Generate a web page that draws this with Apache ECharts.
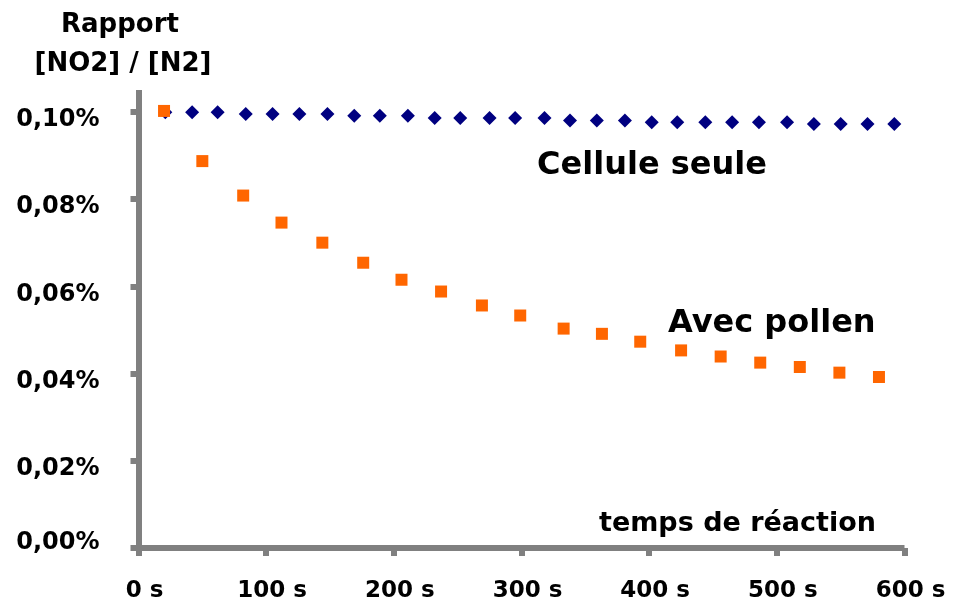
<!DOCTYPE html>
<html>
<head>
<meta charset="utf-8">
<script src="https://cdn.jsdelivr.net/npm/echarts@6/dist/echarts.min.js"></script>
<style>
html,body{margin:0;padding:0;background:#fff;}
#c{width:963px;height:603px;}
</style>
</head>
<body>
<div id="c"></div>
<script>
// Data (values in percent)
const seuleTimes = [21, 42, 62, 84, 105, 126, 148, 169, 189, 211, 232, 252, 275, 295, 318, 338, 359, 381, 402, 422, 444, 465, 486, 508, 529, 550, 571, 592];
const seuleValues = [0.0999, 0.0999, 0.0999, 0.0995, 0.0995, 0.0995, 0.0995, 0.0991, 0.0991, 0.0991, 0.0986, 0.0986, 0.0986, 0.0986, 0.0986, 0.0980, 0.0980, 0.0980, 0.0976, 0.0976, 0.0976, 0.0976, 0.0976, 0.0976, 0.0972, 0.0972, 0.0972, 0.0972];
const pollenTimes = [20, 50, 82, 112, 144, 176, 206, 237, 269, 299, 333, 363, 393, 425, 456, 487, 518, 549, 580];
const pollenValues = [0.1002, 0.0887, 0.0808, 0.0746, 0.0700, 0.0654, 0.0615, 0.0588, 0.0556, 0.0533, 0.0503, 0.0491, 0.0473, 0.0453, 0.0439, 0.0425, 0.0415, 0.0402, 0.0392];
const yTicks = [0, 0.02, 0.04, 0.06, 0.08, 0.10];
const xTicks = [0, 100, 200, 300, 400, 500, 600];
const seriesNames = ['Cellule seule', 'Avec pollen'];
const yTitle = ['Rapport', '[NO2] / [N2]'];
const xTitle = 'temps de réaction';

const FONT = '"DejaVu Sans", sans-serif';
const axisGray = '#808080';

const chart = echarts.init(document.getElementById('c'), null, {renderer: 'canvas'});
chart.setOption({
  backgroundColor: '#ffffff',
  animation: false,
  grid: {left: 138.5, right: 58.5, top: 90, bottom: 55, containLabel: false},
  xAxis: {
    type: 'value', min: 0, max: 600, interval: 100,
    splitLine: {show: false},
    axisLine: {show: true, onZero: false, lineStyle: {color: axisGray, width: 6, cap: 'butt'}},
    axisTick: {show: true, length: 8, lineStyle: {color: axisGray, width: 6}, customValues: xTicks},
    axisLabel: {
      customValues: xTicks,
      margin: 32, fontFamily: FONT, fontWeight: 'bold', fontSize: 23, color: '#000',
      padding: [0, 0, 0, 12],
      formatter: v => v + ' s'
    }
  },
  yAxis: {
    type: 'value', min: 0, max: 0.105,
    splitLine: {show: false},
    axisLine: {show: true, lineStyle: {color: axisGray, width: 6, cap: 'butt'}},
    axisTick: {show: true, length: 8, lineStyle: {color: axisGray, width: 6}, customValues: yTicks},
    axisLabel: {
      customValues: yTicks,
      margin: 39, color: '#000',
      verticalAlign: 'middle',
      formatter: v => {
        const s = v.toFixed(2).replace('.', ',') + '%';
        return v === 0 ? '{t|' + s + '}\n{z| }' : '{s| }\n{t|' + s + '}';
      },
      rich: {
        t: {fontFamily: FONT, fontWeight: 'bold', fontSize: 24, color: '#000', lineHeight: 24},
        s: {fontSize: 2, lineHeight: 16},
        z: {fontSize: 2, lineHeight: 10}
      }
    }
  },
  series: [
    {
      name: seriesNames[0], type: 'scatter', symbol: 'diamond', symbolSize: 14,
      itemStyle: {color: '#000080', opacity: 1},
      data: seuleTimes.map((t, i) => [t, seuleValues[i]])
    },
    {
      name: seriesNames[1], type: 'scatter', symbol: 'rect', symbolSize: 12,
      itemStyle: {color: '#FF6600', opacity: 1},
      data: pollenTimes.map((t, i) => [t, pollenValues[i]])
    }
  ],
  graphic: [
    {type: 'text', style: {x: 120, y: 25.6, text: yTitle[0], font: 'bold 26px ' + FONT, fill: '#000', textAlign: 'center', textVerticalAlign: 'middle'}},
    {type: 'text', style: {x: 123, y: 64, text: yTitle[1], font: 'bold 26px ' + FONT, fill: '#000', textAlign: 'center', textVerticalAlign: 'middle'}},
    {type: 'text', style: {x: 537, y: 165.5, text: seriesNames[0], font: 'bold 32px ' + FONT, fill: '#000', textAlign: 'left', textVerticalAlign: 'middle'}},
    {type: 'text', style: {x: 668, y: 323.8, text: seriesNames[1], font: 'bold 32px ' + FONT, fill: '#000', textAlign: 'left', textVerticalAlign: 'middle'}},
    {type: 'text', style: {x: 599, y: 523.7, text: xTitle, font: 'bold 27px ' + FONT, fill: '#000', textAlign: 'left', textVerticalAlign: 'middle'}}
  ]
});
</script>
</body>
</html>
